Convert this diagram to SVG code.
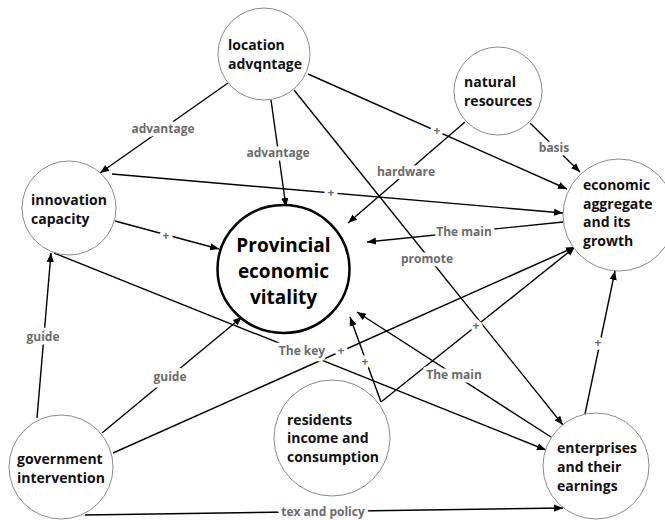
<svg xmlns="http://www.w3.org/2000/svg" width="665" height="520" viewBox="0 0 665 520">
  <defs>
    <marker id="arrow" viewBox="0 0 10 10" refX="10" refY="5" markerWidth="9" markerHeight="9" markerUnits="userSpaceOnUse" orient="auto">
      <path d="M0,1 L10,5 L0,9 Z" fill="#000"/>
    </marker>
    <style>
      .bg { fill: #fff; }
      .node { fill: #fff; stroke: #8a8a8a; stroke-width: 1; }
      .core { fill: #fff; stroke: #000; stroke-width: 2.5; }
      .label { font-family: "Open Sans", "Noto Sans", "Liberation Sans", sans-serif; font-weight: bold; font-size: 14px; fill: #111; }
      .core-label { font-family: "Open Sans", "Noto Sans", "Liberation Sans", sans-serif; font-weight: bold; font-size: 19px; fill: #000; text-anchor: middle; }
      .edge { fill: none; stroke: #000; stroke-width: 1.4; marker-end: url(#arrow); }
      .tag { font-family: "Open Sans", "Noto Sans", "Liberation Sans", sans-serif; font-weight: bold; font-size: 12px; fill: #6b6b6b; text-anchor: middle; stroke: #fff; stroke-width: 7; paint-order: stroke; stroke-linejoin: round; }
    </style>
  </defs>

  <rect class="bg" x="0" y="0" width="665" height="520"/>

  <!-- connectors -->
  <g id="connectors">
    <line class="edge" x1="228" y1="83" x2="100" y2="173"/>
    <line class="edge" x1="271" y1="100" x2="286" y2="207"/>
    <line class="edge" x1="308" y1="74" x2="567" y2="189"/>
    <line class="edge" x1="294" y1="90" x2="563" y2="425"/>
    <line class="edge" x1="465" y1="122" x2="348" y2="223"/>
    <line class="edge" x1="530" y1="123" x2="580" y2="172"/>
    <line class="edge" x1="112" y1="174" x2="563" y2="213"/>
    <line class="edge" x1="115" y1="221" x2="219" y2="249"/>
    <line class="edge" x1="563" y1="222" x2="367" y2="242"/>
    <line class="edge" x1="54" y1="253" x2="546" y2="450"/>
    <line class="edge" x1="37" y1="418" x2="51" y2="253"/>
    <line class="edge" x1="102" y1="433" x2="242" y2="317"/>
    <line class="edge" x1="113" y1="453" x2="575" y2="247"/>
    <line class="edge" x1="381" y1="402" x2="575" y2="247"/>
    <line class="edge" x1="381" y1="402" x2="350" y2="317"/>
    <line class="edge" x1="551" y1="437" x2="357" y2="312"/>
    <line class="edge" x1="585" y1="414" x2="615" y2="271"/>
    <line class="edge" x1="85" y1="515" x2="563" y2="508"/>

    <!-- connector labels -->
    <text class="tag" x="163" y="133">advantage</text>
    <text class="tag" x="278" y="157">advantage</text>
    <text class="tag" x="437" y="135">+</text>
    <text class="tag" x="554" y="152">basis</text>
    <text class="tag" x="406" y="176">hardware</text>
    <text class="tag" x="331" y="197">+</text>
    <text class="tag" x="464" y="236">The main</text>
    <text class="tag" x="166" y="240">+</text>
    <text class="tag" x="427" y="263">promote</text>
    <text class="tag" x="476" y="330">+</text>
    <text class="tag" x="43" y="341">guide</text>
    <text class="tag" x="302" y="355">The key</text>
    <text class="tag" x="341" y="355">+</text>
    <text class="tag" x="365" y="366">+</text>
    <text class="tag" x="454" y="379">The main</text>
    <text class="tag" x="170" y="381">guide</text>
    <text class="tag" x="598" y="347">+</text>
    <text class="tag" x="323" y="516">tex and policy</text>
  </g>

  <!-- nodes -->
  <g id="location-advantage">
    <circle class="node" cx="264" cy="54" r="46"/>
    <text class="label" x="228" y="50">location</text>
    <text class="label" x="228" y="69">advqntage</text>
  </g>

  <g id="natural-resources">
    <circle class="node" cx="498" cy="91" r="44"/>
    <text class="label" x="464" y="87">natural</text>
    <text class="label" x="464" y="106">resources</text>
  </g>

  <g id="innovation-capacity">
    <circle class="node" cx="69" cy="208" r="47"/>
    <text class="label" x="31" y="205">innovation</text>
    <text class="label" x="31" y="224">capacity</text>
  </g>

  <g id="economic-aggregate">
    <circle class="node" cx="619" cy="215" r="56"/>
    <text class="label" x="583" y="190">economic</text>
    <text class="label" x="583" y="208.5">aggregate</text>
    <text class="label" x="583" y="227">and its</text>
    <text class="label" x="583" y="245.5">growth</text>
  </g>

  <g id="provincial-economic-vitality">
    <ellipse class="core" cx="283.5" cy="269" rx="66" ry="64"/>
    <text class="core-label" x="283.5" y="252">Provincial</text>
    <text class="core-label" x="283.5" y="278">economic</text>
    <text class="core-label" x="283.5" y="304">vitality</text>
  </g>

  <g id="government-intervention">
    <circle class="node" cx="61" cy="467" r="52"/>
    <text class="label" x="17" y="464">government</text>
    <text class="label" x="17" y="483">intervention</text>
  </g>

  <g id="residents-income">
    <circle class="node" cx="332" cy="438" r="58"/>
    <text class="label" x="287" y="425">residents</text>
    <text class="label" x="287" y="443">income and</text>
    <text class="label" x="287" y="462">consumption</text>
  </g>

  <g id="enterprises-earnings">
    <circle class="node" cx="596" cy="466" r="53"/>
    <text class="label" x="557" y="453">enterprises</text>
    <text class="label" x="557" y="472">and their</text>
    <text class="label" x="557" y="491">earnings</text>
  </g>
</svg>
